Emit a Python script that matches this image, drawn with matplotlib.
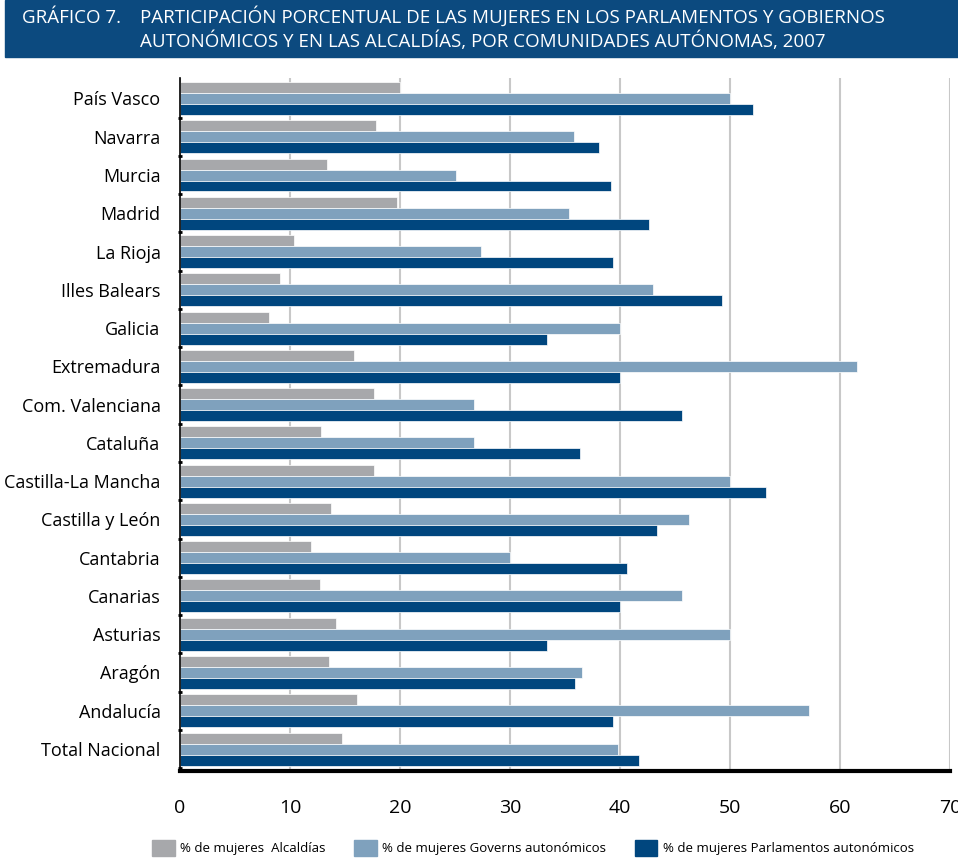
import matplotlib
matplotlib.use("Agg")
from matplotlib import pyplot as plt
from matplotlib.patches import Rectangle, Patch
import numpy as np

plt.rcParams['font.family'] = ['Open Sans', 'DejaVu Sans']

comunidades = ["País Vasco", "Navarra", "Murcia", "Madrid", "La Rioja", "Illes Balears",
               "Galicia", "Extremadura", "Com. Valenciana", "Cataluña", "Castilla-La Mancha",
               "Castilla y León", "Cantabria", "Canarias", "Asturias", "Aragón", "Andalucía",
               "Total Nacional"]
alcaldias = [20.0, 17.8, 13.4, 19.7, 10.4, 9.1, 8.1, 15.8, 17.6, 12.8, 17.6, 13.7,
             11.9, 12.7, 14.2, 13.5, 16.1, 14.7]
governs = [50.0, 35.8, 25.1, 35.4, 27.4, 43.0, 40.0, 61.5, 26.7, 26.7, 50.0, 46.3,
           30.0, 45.6, 50.0, 36.5, 57.2, 39.8]
parlamentos = [52.1, 38.1, 39.2, 42.6, 39.4, 49.3, 33.4, 40.0, 45.6, 36.4, 53.3, 43.4,
               40.6, 40.0, 33.4, 35.9, 39.4, 41.7]
series_names = ["% de mujeres  Alcaldías", "% de mujeres Governs autonómicos",
                "% de mujeres Parlamentos autonómicos"]
xticks = [0, 10, 20, 30, 40, 50, 60, 70]

c_gray = "#a7a8ab"
c_light = "#7fa1bd"
c_dark = "#00467e"
c_head = "#0c4a7f"

fig = plt.figure(figsize=(9.58, 8.63), dpi=100)

# header band
fig.patches.append(Rectangle((5 / 958, 1 - 57 / 863), 953 / 958, 57 / 863,
                             transform=fig.transFigure, color=c_head, zorder=0))
fig.text(22 / 958, 1 - 23 / 863, "GRÁFICO 7.", color="white", fontsize=13.5, va="baseline")
fig.text(140 / 958, 1 - 23 / 863,
         "PARTICIPACIÓN PORCENTUAL DE LAS MUJERES EN LOS PARLAMENTOS Y GOBIERNOS",
         color="white", fontsize=13.5, va="baseline")
fig.text(140 / 958, 1 - 47 / 863,
         "AUTONÓMICOS Y EN LAS ALCALDÍAS, POR COMUNIDADES AUTÓNOMAS, 2007",
         color="white", fontsize=13.5, va="baseline")

ax = fig.add_axes([180 / 958, 1 - 771 / 863, 770 / 958, 693 / 863])
y = np.arange(len(comunidades))
h = 0.287
ax.barh(y - h, alcaldias, height=h, color=c_gray, edgecolor="white", linewidth=0.5, zorder=3)
ax.barh(y, governs, height=h, color=c_light, edgecolor="white", linewidth=0.5, zorder=3)
ax.barh(y + h, parlamentos, height=h, color=c_dark, edgecolor="white", linewidth=0.5, zorder=3)

ax.set_xlim(0, 70)
ax.set_ylim(17.574, -0.535)
ax.set_xticks(xticks)
ax.set_xticklabels([str(t) for t in xticks], fontsize=14)
ax.tick_params(axis="x", length=0, pad=20)
ax.set_yticks(y)
ax.set_yticklabels(comunidades, fontsize=13)
ax.tick_params(axis="y", which="major", length=0, pad=14)
ax.set_yticks(np.arange(0.5, 17.6, 1), minor=True)
ax.tick_params(axis="y", which="minor", length=3, width=2, direction="inout")
ax.grid(axis="x", color="#c8c8c8", linewidth=1.5, zorder=0)
for s in ["top", "right"]:
    ax.spines[s].set_visible(False)
ax.spines["left"].set_linewidth(1.2)
ax.spines["bottom"].set_linewidth(3)
ax.spines["left"].set_zorder(4)
ax.spines["bottom"].set_zorder(4)

handles = [Patch(color=c_gray), Patch(color=c_light), Patch(color=c_dark)]
fig.legend(handles, series_names, loc="center", bbox_to_anchor=(533 / 958, 1 - 848 / 863),
           ncol=3, frameon=False, fontsize=9.5, handlelength=1.7, handleheight=1.4,
           handletextpad=0.4, columnspacing=2.2)

fig.savefig("out.png", dpi=100)
